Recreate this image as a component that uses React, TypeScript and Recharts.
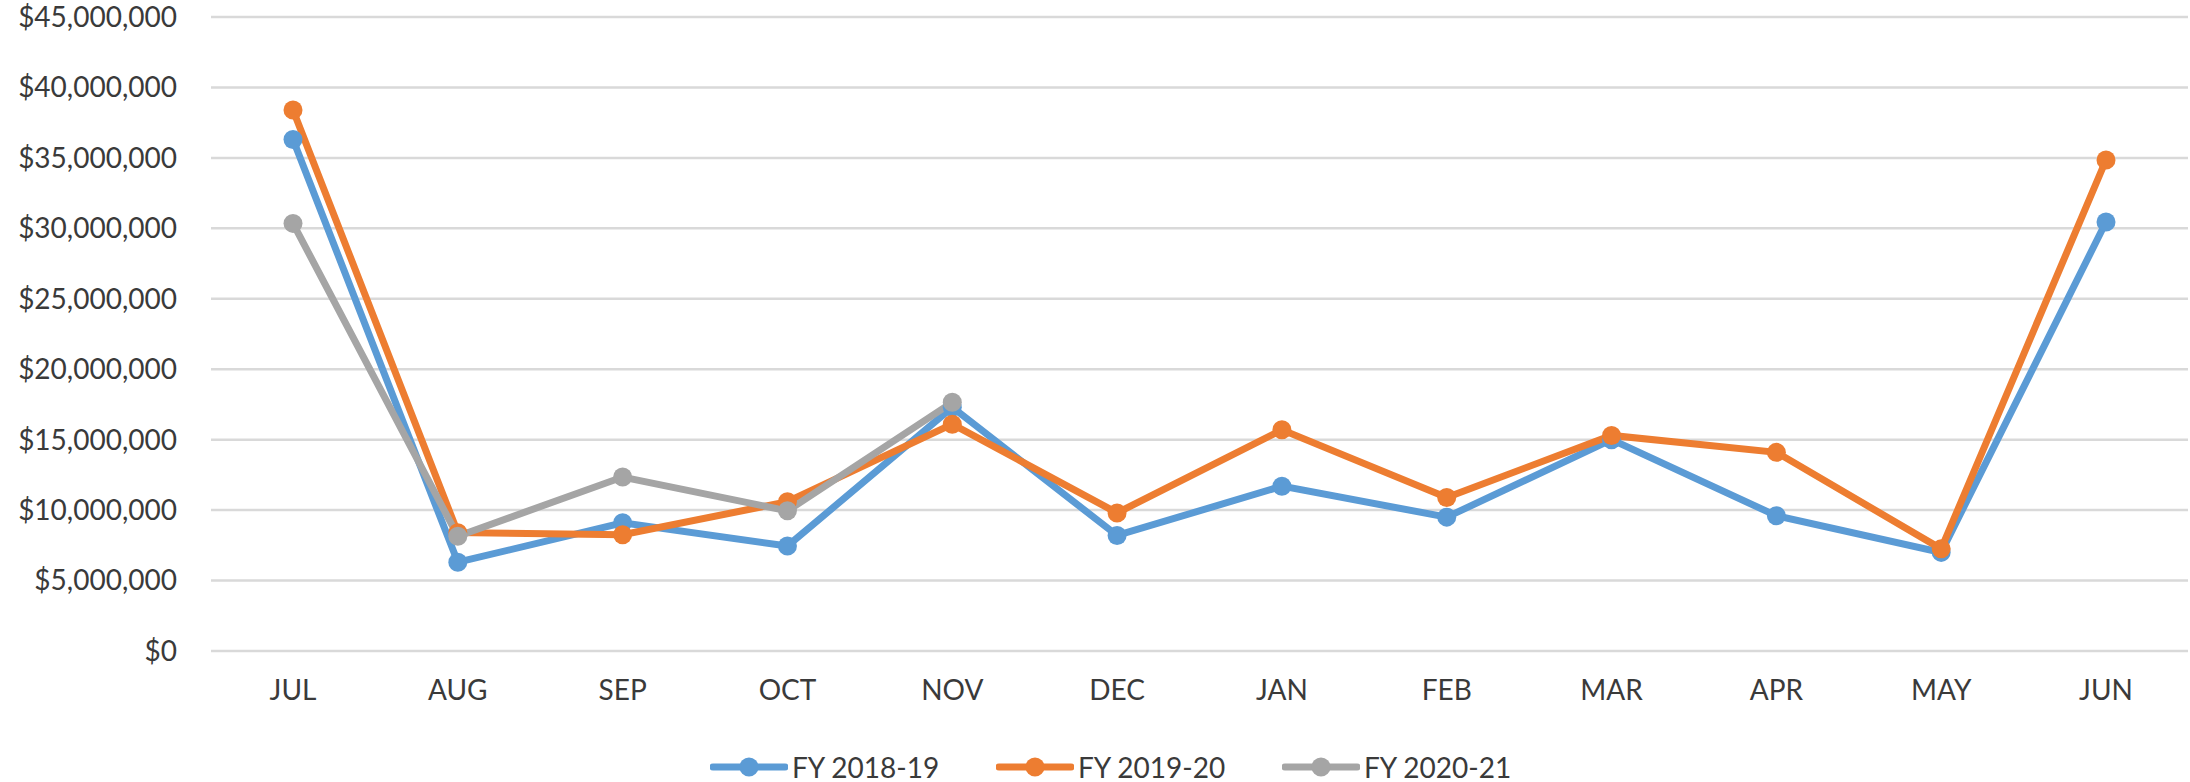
import { LineChart, Line, XAxis, YAxis, CartesianGrid, Legend } from "recharts";

const months = ["JUL", "AUG", "SEP", "OCT", "NOV", "DEC", "JAN", "FEB", "MAR", "APR", "MAY", "JUN"];

const fy1819 = [36300000, 6300000, 9100000, 7450000, 17300000, 8200000, 11700000, 9500000, 15000000, 9600000, 7000000, 30450000];
const fy1920 = [38400000, 8400000, 8250000, 10600000, 16100000, 9800000, 15700000, 10900000, 15300000, 14100000, 7250000, 34850000];
const fy2021 = [30350000, 8150000, 12350000, 9950000, 17650000, null, null, null, null, null, null, null];

const yTicks = [0, 5000000, 10000000, 15000000, 20000000, 25000000, 30000000, 35000000, 40000000, 45000000];

const seriesNames = ["FY 2018-19", "FY 2019-20", "FY 2020-21"];
const seriesColors = ["#5B9BD5", "#ED7D31", "#A5A5A5"];

const data = months.map((m, i) => ({
  month: m,
  a: fy1819[i],
  b: fy1920[i],
  c: fy2021[i],
}));

const FONT = "Lato, 'Open Sans', sans-serif";
const TEXT = "#3a3a3a";

const money = (v: number) => "$" + v.toLocaleString("en-US");

function LegendContent() {
  return (
    <div style={{ display: "flex", fontFamily: FONT, fontSize: 28, color: TEXT, height: 30, alignItems: "center" }}>
      {seriesNames.map((name, i) => (
        <div key={name} style={{ display: "flex", alignItems: "center", width: 286 }}>
          <svg width={78} height={24}>
            <line x1={3} y1={12} x2={75} y2={12} stroke={seriesColors[i]} strokeWidth={7} strokeLinecap="round" />
            <circle cx={39} cy={12} r={9.5} fill={seriesColors[i]} />
          </svg>
          <span style={{ marginLeft: 4 }}>{name}</span>
        </div>
      ))}
    </div>
  );
}

export default function App() {
  const keys = ["a", "b", "c"];
  return (
    <div style={{ position: "absolute", left: 0, top: 0, background: "#fff" }}>
      <LineChart width={2190} height={782} data={data} margin={{ top: 17, right: 2, left: 0, bottom: 0 }}>
        <CartesianGrid vertical={false} stroke="#d9d9d9" strokeWidth={2.5} />
        <XAxis
          dataKey="month"
          axisLine={false}
          tickLine={false}
          tickMargin={23}
          height={101}
          padding={{ left: 82, right: 82 }}
          tick={{ fontSize: 28, fill: TEXT, fontFamily: FONT }}
        />
        <YAxis
          width={211}
          domain={[0, 45000000]}
          ticks={yTicks}
          axisLine={false}
          tickLine={false}
          tickMargin={28}
          tickFormatter={money}
          tick={{ fontSize: 28, fill: TEXT, fontFamily: FONT }}
        />
        <Legend
          verticalAlign="bottom"
          content={() => <LegendContent />}
          wrapperStyle={{ left: 710, width: 880, height: 30 }}
        />
        {keys.map((k, i) => (
          <Line
            key={k}
            dataKey={k}
            name={seriesNames[i]}
            type="linear"
            stroke={seriesColors[i]}
            strokeWidth={7}
            dot={{ r: 9.5, fill: seriesColors[i], stroke: seriesColors[i], strokeWidth: 0 }}
            isAnimationActive={false}
          />
        ))}
      </LineChart>
    </div>
  );
}
